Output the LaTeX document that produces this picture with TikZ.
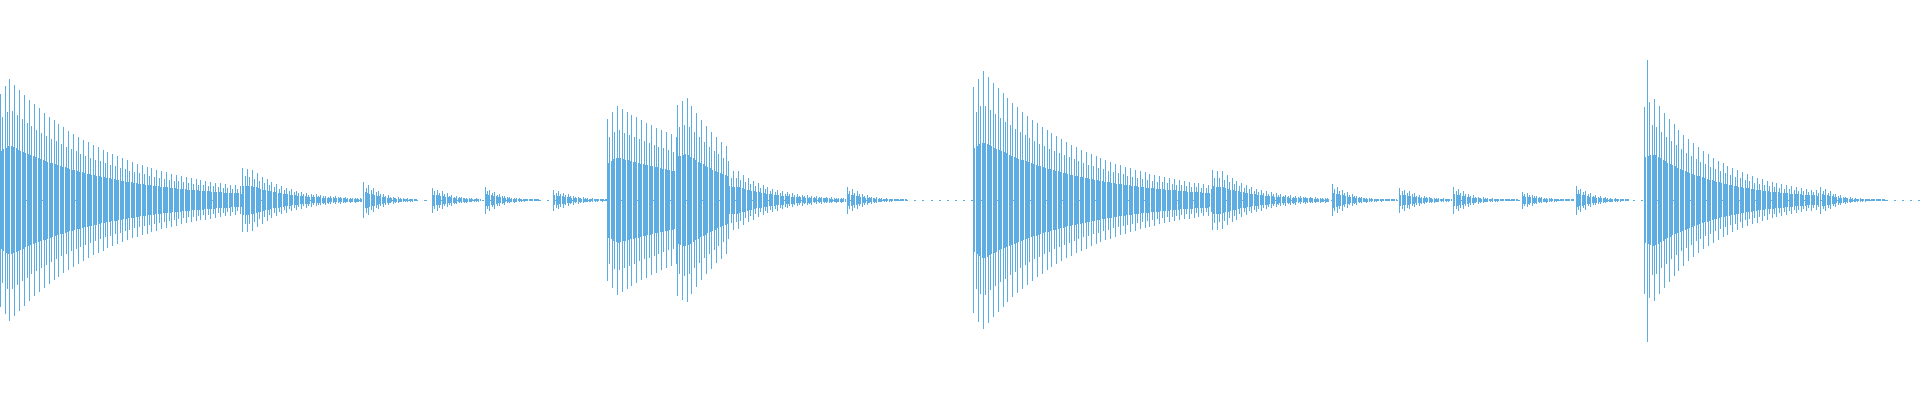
\documentclass[tikz,border=0pt]{standalone}
\definecolor{wave}{HTML}{5DADE2}
\begin{document}
\begin{tikzpicture}[x=0.6pt,y=0.6pt,wv/.style={draw=wave,line width=0.35pt}]
\useasboundingbox (0,0) rectangle (1568,327);
\coordinate (c0) at (0,163.5);
\coordinate (c1) at (1568,163.5);
\draw[wv,dash pattern=on 1pt off 3pt] (c0) -- (c1);
\foreach \s/\e/\A/\t in {0/198/108/86,198/295/32/30,297/340/18/12,353/392/12/14,396/440/13/11,452/495/10/14,496/553/82/120,553/595/97/50,595/690/30/30,692/740/13/12,795/990/115/85,990/1085/30/30,1088/1140/16/12,1143/1185/12/14,1187/1240/13/12,1243/1285/8/12,1287/1330/14/12,1343/1485/95/55,1487/1540/13/12}{
  \foreach \x in {\s,...,\e}{
    \pgfmathsetmacro\k{mod(int(\x-\s),4)==0 ? 1 : (mod(int(\x-\s),2)==0 ? 0.75 : 0.45)}
    \pgfmathsetmacro\rise{min(1,0.8+(\x-\s)/40)}
    \pgfmathsetmacro\a{\A*exp(-(\x-\s)/\t)*\k*\rise+0.5}
    \draw[wv] (\x,163.5-\a) -- (\x,163.5+\a);
  }
}
\draw[wv] (1345,48) -- (1345,278);
\end{tikzpicture}
\end{document}
